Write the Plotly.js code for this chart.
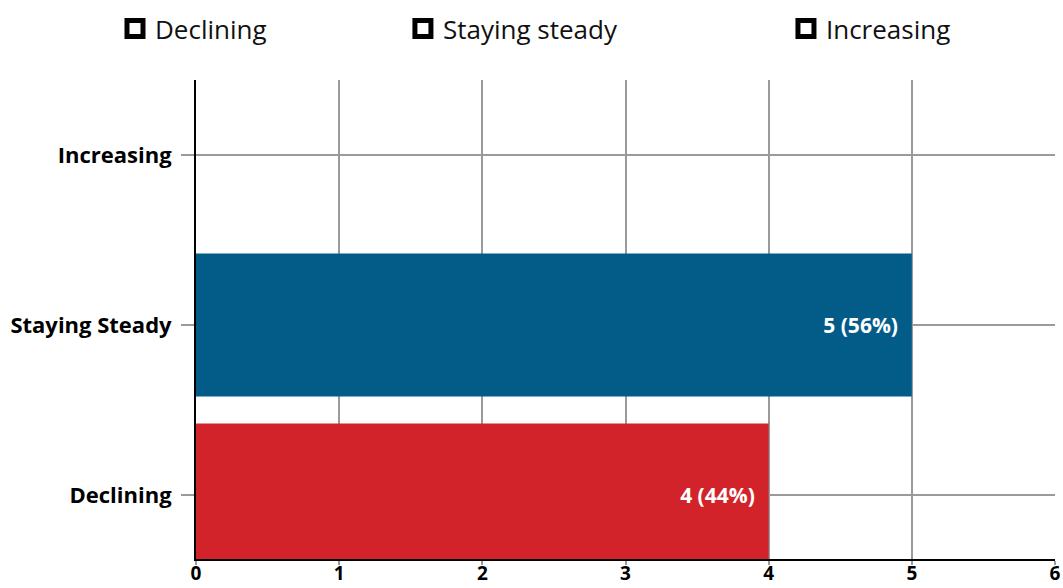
<!DOCTYPE html>
<html>
<head>
<meta charset="utf-8">
<script src="https://cdn.plot.ly/plotly-3.0.1.min.js"></script>
<style>
  html, body { margin: 0; padding: 0; background: #ffffff; }
  #chart { width: 1063px; height: 588px; }
</style>
</head>
<body>
<div id="chart"></div>
<script>
// ---- Data ----
const categories = ["Declining", "Staying Steady", "Increasing"];
const counts = [4, 5, 0];
const barColors = ["#D2232A", "#035C88", "#ffffff"];
const legendNames = ["Declining", "Staying steady", "Increasing"];
const xTickValues = [0, 1, 2, 3, 4, 5, 6];

const total = counts.reduce((a, b) => a + b, 0);
const labels = counts.map(v => v > 0 ? `${v} (${Math.round(v / total * 100)}%)\u00a0\u00a0` : "");

const font = "Open Sans, Lato, sans-serif";

const traces = [{
  type: "bar",
  orientation: "h",
  y: categories,
  x: counts,
  width: 0.84,
  marker: { color: barColors },
  text: labels,
  textposition: "inside",
  insidetextanchor: "end",
  textfont: { family: font, size: 21, color: "#ffffff", weight: "bold" },
  hoverinfo: "x+y",
  showlegend: false
}];

// legend entries (hollow black squares), one legend per entry for placement
const legendIds = ["legend", "legend2", "legend3"];
legendNames.forEach((name, i) => {
  traces.push({
    type: "scatter",
    mode: "markers",
    x: [null], y: [null],
    name: name,
    legend: legendIds[i],
    marker: { symbol: "square", size: 18, color: "#ffffff", line: { color: "#000000", width: 5 } },
    hoverinfo: "skip",
    showlegend: true
  });
});

const legendX = [-0.0943, 0.2409, 0.6868];
const legendCommon = {
  orientation: "h",
  yref: "container",
  yanchor: "top",
  y: 0.9915,
  xanchor: "left",
  bgcolor: "rgba(0,0,0,0)",
  font: { family: font, size: 26, color: "#111111" },
  itemclick: false,
  itemdoubleclick: false
};

const layout = {
  width: 1063,
  height: 588,
  margin: { l: 196, r: 8, t: 80, b: 29, pad: 0 },
  paper_bgcolor: "#ffffff",
  plot_bgcolor: "#ffffff",
  font: { family: font, color: "#000000" },
  bargap: 0.16,
  xaxis: {
    range: [0, 6],
    tickvals: xTickValues,
    ticktext: xTickValues.map(String),
    showgrid: true,
    gridcolor: "#9a9a9a",
    gridwidth: 2,
    zeroline: false,
    showline: true,
    linecolor: "#000000",
    linewidth: 2,
    ticks: "outside",
    ticklen: 4,
    tickwidth: 2,
    tickcolor: "#9a9a9a",
    ticklabelstandoff: -8,
    tickfont: { family: font, size: 19, color: "#000000", weight: "bold" },
    fixedrange: true
  },
  yaxis: {
    type: "category",
    categoryorder: "array",
    categoryarray: categories,
    range: [-0.376, 2.44],
    showgrid: true,
    gridcolor: "#9a9a9a",
    gridwidth: 2,
    zeroline: false,
    showline: true,
    linecolor: "#000000",
    linewidth: 2,
    ticks: "outside",
    ticklen: 13,
    tickwidth: 2,
    tickcolor: "#9a9a9a",
    ticklabelstandoff: 5,
    tickfont: { family: font, size: 22, color: "#000000", weight: "bold" },
    fixedrange: true
  },
  legend: Object.assign({}, legendCommon, { x: legendX[0] }),
  legend2: Object.assign({}, legendCommon, { x: legendX[1] }),
  legend3: Object.assign({}, legendCommon, { x: legendX[2] })
};

Plotly.newPlot("chart", traces, layout, { displayModeBar: false, responsive: false });
</script>
</body>
</html>
